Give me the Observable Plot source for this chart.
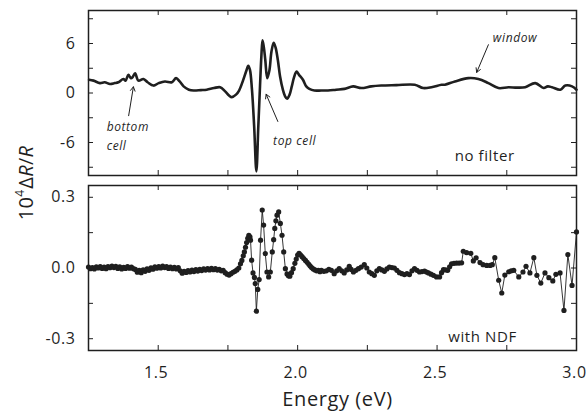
<!DOCTYPE html>
<html>
<head>
<meta charset="utf-8">
<script src="https://cdn.jsdelivr.net/npm/d3@7"></script>
<script src="https://cdn.jsdelivr.net/npm/@observablehq/plot@0.6"></script>
<style>
  html, body { margin: 0; padding: 0; background: #fff; }
  #chart { position: relative; width: 586px; height: 416px; font-family: "Open Sans", sans-serif; color: #1f1f1f; }
  #chart .panel { position: absolute; left: 0; }
  #ylab { position: absolute; left: 27px; top: 183px; transform: translate(-50%, -50%) rotate(-90deg);
          font-size: 20px; line-height: 20px; white-space: nowrap; letter-spacing: 0.3px; }
  #ylab .sup { font-size: 12px; position: relative; top: -0.75em; margin-right: 1px; }
</style>
</head>
<body>
<div id="chart">
  <div id="top" class="panel" style="top:0px"></div>
  <div id="bottom" class="panel" style="top:180px"></div>
  <div id="ylab">10<span class="sup">4</span>Δ<i>R</i>/<i>R</i></div>
</div>
<script>
// ---------- data ----------
// Energy (eV), 10^4 ΔR/R — no filter (continuous curve)
const noFilter = [
  [1.252,1.6],[1.268,1.5],[1.291,1.2],[1.308,1.3],[1.327,1.1],[1.344,1.2],[1.357,1.3],[1.375,1.7],[1.383,1.5],[1.393,2.2],
  [1.402,1.8],[1.408,1.9],[1.417,2.4],[1.429,1.5],[1.447,1.7],[1.462,1.3],[1.483,0.9],[1.502,1.2],[1.524,1.4],[1.549,1.3],
  [1.564,1.8],[1.577,1.4],[1.591,0.8],[1.610,0.4],[1.627,0.3],[1.653,0.35],[1.674,0.4],[1.700,0.6],[1.722,0.7],[1.740,0.2],
  [1.754,-0.3],[1.764,-0.5],[1.779,-0.2],[1.790,0.3],[1.804,1.5],[1.815,2.6],[1.823,3.3],[1.829,2.8],[1.836,0.5],[1.844,-4],
  [1.852,-9.5],[1.859,-4],[1.865,0.8],[1.870,4.5],[1.874,6.4],[1.879,5.5],[1.884,4],[1.891,1.8],[1.899,2.8],[1.906,5],
  [1.914,6.1],[1.921,5.5],[1.929,4],[1.937,2],[1.947,0.4],[1.955,-0.4],[1.962,-0.7],[1.971,-0.2],[1.979,0.8],[1.987,1.9],
  [1.996,2.6],[2.005,2.2],[2.019,1.6],[2.031,0.8],[2.042,0.5],[2.060,0.3],[2.085,0.3],[2.109,0.3],[2.138,0.4],[2.168,0.5],
  [2.199,0.8],[2.228,0.6],[2.264,0.8],[2.300,0.9],[2.354,0.95],[2.420,1.0],[2.450,0.6],[2.480,0.7],[2.516,1.0],[2.528,1.0],
  [2.564,1.4],[2.612,1.8],[2.648,1.7],[2.684,1.2],[2.720,0.6],[2.756,0.7],[2.786,0.65],[2.816,0.7],[2.852,1.2],[2.882,0.6],
  [2.897,0.8],[2.912,0.7],[2.942,0.4],[2.960,0.9],[2.984,0.8],[3.000,0.4]
];

// Energy (eV), 10^4 ΔR/R — with NDF (measured points)
const withNDF = [
  [1.250,0.004],[1.257,-0.003],[1.264,0.002],[1.271,-0.004],[1.278,0.005],[1.285,0.000],[1.292,0.006],[1.299,-0.002],
  [1.306,0.004],[1.313,-0.003],[1.320,0.006],[1.327,0.001],[1.334,0.008],[1.341,0.002],[1.348,0.007],[1.355,-0.002],
  [1.362,0.005],[1.369,-0.004],[1.376,0.003],[1.383,-0.002],[1.390,0.006],[1.397,-0.001],[1.404,0.004],[1.411,-0.003],
  [1.418,-0.006],[1.425,-0.018],[1.432,-0.010],[1.439,-0.020],[1.446,-0.008],[1.453,-0.014],[1.460,-0.004],[1.467,-0.010],
  [1.474,0.001],[1.481,-0.005],[1.488,0.005],[1.495,-0.001],[1.502,0.006],[1.509,0.000],[1.516,0.008],[1.523,0.002],
  [1.530,0.006],[1.537,-0.002],[1.544,0.004],[1.551,-0.003],[1.558,0.003],[1.565,-0.004],[1.572,0.002],[1.579,-0.012],
  [1.586,-0.022],[1.593,-0.014],[1.600,-0.019],[1.607,-0.011],[1.614,-0.017],[1.621,-0.009],[1.628,-0.015],[1.635,-0.007],
  [1.642,-0.013],[1.649,-0.006],[1.656,-0.011],[1.663,-0.004],[1.670,-0.009],[1.677,-0.003],[1.684,-0.008],[1.691,-0.002],
  [1.698,-0.007],[1.705,-0.003],[1.712,-0.009],[1.719,-0.006],[1.726,-0.012],[1.733,-0.010],[1.740,-0.020],[1.747,-0.026],
  [1.754,-0.030],[1.761,-0.024],[1.768,-0.018],[1.775,-0.014],[1.782,-0.008],[1.789,0.000],[1.795,0.018],[1.800,0.032],
  [1.805,0.052],[1.809,0.068],[1.813,0.088],[1.817,0.108],[1.821,0.126],[1.825,0.139],[1.829,0.132],[1.831,0.118],
  [1.835,0.033],[1.840,-0.021],[1.845,-0.040],[1.848,-0.066],[1.852,-0.183],[1.857,-0.091],[1.862,-0.049],[1.867,0.118],
  [1.873,0.246],[1.878,0.182],[1.884,0.061],[1.890,-0.017],[1.896,-0.038],[1.902,-0.017],[1.909,0.068],[1.914,0.120],
  [1.918,0.168],[1.922,0.200],[1.926,0.224],[1.932,0.238],[1.938,0.189],[1.944,0.139],[1.950,0.068],[1.956,-0.003],
  [1.962,-0.025],[1.967,-0.033],[1.972,-0.035],[1.978,-0.020],[1.984,-0.003],[1.990,0.020],[1.995,0.038],[2.000,0.055],
  [2.005,0.062],[2.010,0.056],[2.016,0.048],[2.022,0.040],[2.028,0.032],[2.034,0.024],[2.040,0.016],[2.045,0.008],
  [2.050,0.002],[2.056,-0.004],[2.062,-0.008],[2.068,-0.012],[2.074,-0.010],[2.080,-0.016],[2.085,-0.010],[2.094,-0.014],
  [2.103,-0.012],[2.112,-0.006],[2.121,-0.010],[2.131,-0.024],[2.140,-0.012],[2.149,-0.003],[2.158,-0.012],[2.167,-0.021],
  [2.176,-0.008],[2.185,0.007],[2.192,-0.006],[2.200,-0.017],[2.209,-0.010],[2.218,-0.003],[2.228,0.004],[2.239,0.014],
  [2.248,0.000],[2.257,-0.017],[2.266,-0.024],[2.275,-0.031],[2.284,-0.012],[2.293,-0.003],[2.302,-0.008],[2.311,-0.014],
  [2.320,-0.004],[2.329,0.004],[2.338,0.002],[2.347,0.000],[2.356,-0.010],[2.365,-0.020],[2.374,-0.024],[2.383,-0.028],
  [2.392,-0.024],[2.401,-0.028],[2.410,-0.012],[2.419,-0.003],[2.428,-0.010],[2.437,-0.017],[2.446,-0.015],[2.455,-0.013],
  [2.462,-0.017],[2.469,-0.021],[2.478,-0.026],[2.487,-0.031],[2.498,-0.038],[2.509,-0.038],[2.516,-0.020],[2.523,-0.007],
  [2.531,-0.008],[2.538,-0.010],[2.545,0.005],[2.552,0.018],[2.561,0.020],[2.570,0.021],[2.579,0.021],[2.588,0.022],
  [2.594,0.071],[2.606,0.065],[2.621,0.062],[2.630,0.030],[2.640,0.043],[2.654,0.023],[2.665,0.014],[2.678,0.011],
  [2.690,0.011],[2.698,0.014],[2.707,0.044],[2.721,-0.052],[2.732,-0.106],[2.743,-0.030],[2.757,-0.016],[2.766,-0.012],
  [2.775,-0.010],[2.793,-0.038],[2.808,-0.017],[2.819,0.007],[2.833,-0.021],[2.847,0.044],[2.858,-0.031],[2.872,-0.064],
  [2.887,-0.021],[2.901,-0.041],[2.915,-0.055],[2.926,-0.027],[2.941,-0.021],[2.955,-0.180],[2.969,0.057],[2.984,-0.074],
  [3.000,0.153]
];

const xLabelTicks = [1.5, 2.0, 2.5, 3.0];
const xAllTicks = [1.5, 1.75, 2.0, 2.25, 2.5, 2.75, 3.0];
const topAllTicks = [-9, -6, -3, 0, 3, 6, 9];
const topLabelTicks = [-6, 0, 6];
const botAllTicks = [-0.3, -0.15, 0, 0.15, 0.3];
const botLabelTicks = [-0.3, 0, 0.3];

// annotations (energy, value)
const topNotes = [
  {x: 1.315, y: -4.1, text: "bottom"},
  {x: 1.315, y: -6.4, text: "cell"},
  {x: 1.912, y: -5.8, text: "top cell"},
  {x: 2.700, y: 6.7, text: "window"}
];
const topArrows = [
  {x1: 1.394, y1: -2.75, x2: 1.411, y2: 0.75},
  {x1: 1.929, y1: -3.45, x2: 1.887, y2: -0.15},
  {x1: 2.684, y1: 5.85, x2: 2.642, y2: 2.5}
];
const panelLabels = {top: {x: 2.563, y: -7.7, text: "no filter"}, bottom: {x: 2.540, y: -0.295, text: "with NDF"}};

// ---------- layout ----------
const W = 586, mL = 88, mR = 10;
const frameW = W - mL - mR;
const frameH = 165;
const tickLen = 5;
const ink = "#1f1f1f";
const baseStyle = {fontFamily: "'Open Sans', sans-serif", fontSize: "15px", color: ink, background: "transparent", overflow: "visible", letterSpacing: "0.6px"};

function boxTicks(xs, ys) {
  return [
    Plot.tickX(xs, {x: d => d, insetTop: frameH - tickLen, stroke: ink, strokeWidth: 1}),
    Plot.tickX(xs, {x: d => d, insetBottom: frameH - tickLen, stroke: ink, strokeWidth: 1}),
    Plot.tickY(ys, {y: d => d, insetRight: frameW - tickLen, stroke: ink, strokeWidth: 1}),
    Plot.tickY(ys, {y: d => d, insetLeft: frameW - tickLen, stroke: ink, strokeWidth: 1})
  ];
}

const topPlot = Plot.plot({
  width: W, height: 180, marginTop: 10, marginBottom: 5, marginLeft: mL, marginRight: mR,
  x: {domain: [1.25, 3.0], axis: null},
  y: {domain: [-10, 10], axis: null},
  style: baseStyle,
  marks: [
    ...boxTicks(xAllTicks, topAllTicks),
    Plot.axisY(topLabelTicks, {anchor: "left", tickSize: 0, tickPadding: 13, tickFormat: d => String(d), label: null, fontSize: 16}),
    Plot.line(noFilter, {x: d => d[0], y: d => d[1], curve: "catmull-rom", stroke: ink, strokeWidth: 2.6}),
    Plot.arrow(topArrows, {x1: "x1", y1: "y1", x2: "x2", y2: "y2", stroke: ink, strokeWidth: 1, headLength: 7}),
    Plot.text(topNotes, {x: "x", y: "y", text: "text", textAnchor: "start", fontStyle: "italic", fontSize: 12, fill: ink}),
    Plot.text([panelLabels.top], {x: "x", y: "y", text: "text", textAnchor: "start", fontSize: 15, fill: ink}),
    Plot.frame({stroke: ink, strokeWidth: 1.5})
  ]
});

const bottomPlot = Plot.plot({
  width: W, height: 236, marginTop: 5, marginBottom: 66, marginLeft: mL, marginRight: mR,
  x: {domain: [1.25, 3.0], axis: null},
  y: {domain: [-0.35, 0.35], axis: null},
  style: baseStyle,
  marks: [
    ...boxTicks(xAllTicks, botAllTicks),
    Plot.axisY(botLabelTicks, {anchor: "left", tickSize: 0, tickPadding: 13, tickFormat: d => d.toFixed(1), label: null, fontSize: 16}),
    Plot.axisX(xLabelTicks, {anchor: "bottom", tickSize: 0, tickPadding: 16, tickFormat: d => d.toFixed(1), label: null, fontSize: 16, dx: -2}),
    Plot.line(withNDF, {x: d => d[0], y: d => d[1], stroke: ink, strokeWidth: 0.9}),
    Plot.dot(withNDF, {x: d => d[0], y: d => d[1], r: 2.6, fill: ink, stroke: "none"}),
    Plot.text([panelLabels.bottom], {x: "x", y: "y", text: "text", textAnchor: "start", fontSize: 15, fill: ink}),
    Plot.text(["Energy (eV)"], {frameAnchor: "bottom", dy: 49, dx: 5, lineAnchor: "middle", fontSize: 20, fill: ink, letterSpacing: "0.8px"}),
    Plot.frame({stroke: ink, strokeWidth: 1.5})
  ]
});

document.getElementById("top").appendChild(topPlot);
document.getElementById("bottom").appendChild(bottomPlot);
</script>
</body>
</html>
